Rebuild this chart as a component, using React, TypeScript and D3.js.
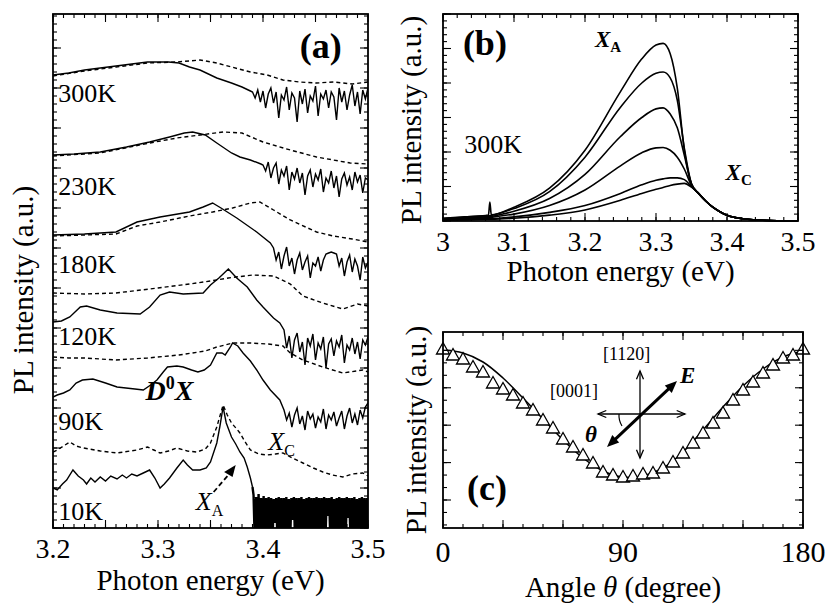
import * as d3 from 'd3'

// ---- panel (a): PL spectra vs temperature, [energy eV, intensity a.u.] ----
const A_300K_SOLID: [number, number][] = [[3.2, 453], [3.215, 455], [3.23, 458], [3.26, 462], [3.29, 466], [3.31, 466], [3.32, 465], [3.33, 461], [3.34, 458], [3.356, 450], [3.37, 445], [3.38, 441], [3.388, 437]]
const A_300K_NOISE = { start: 3.39, step: 0.0025, values: [436, 430, 438, 426, 437, 420, 434, 440, 425, 436, 410, 433, 428, 441, 418, 435, 430, 406, 437, 424, 439, 415, 432, 427, 442, 412, 434, 429, 438, 420, 436, 431, 408, 440, 426, 437, 418, 433, 443, 422, 436, 414, 438, 429, 440] }
const A_300K_DASH: [number, number][] = [[3.2, 452], [3.23, 457], [3.26, 461], [3.29, 465], [3.318, 466], [3.34, 468], [3.356, 465], [3.37, 461], [3.388, 456], [3.404, 453], [3.419, 448], [3.435, 446], [3.451, 445], [3.467, 446], [3.485, 444], [3.5, 446]]

const A_230K_SOLID: [number, number][] = [[3.2, 373], [3.22, 374], [3.245, 376], [3.27, 381], [3.292, 386], [3.311, 391], [3.325, 395], [3.333, 396], [3.345, 393], [3.356, 385], [3.37, 375], [3.378, 371], [3.388, 368], [3.398, 364]]
const A_230K_NOISE = { start: 3.4, step: 0.0025, values: [363, 357, 366, 350, 360, 365, 344, 358, 352, 362, 338, 356, 349, 360, 345, 355, 333, 352, 358, 341, 354, 348, 359, 336, 350, 345, 357, 340, 352, 331, 349, 355, 343, 351, 338, 356, 346, 353, 335, 350, 348] }
const A_230K_DASH: [number, number][] = [[3.2, 372], [3.245, 375], [3.292, 385], [3.318, 390], [3.34, 393], [3.362, 396], [3.38, 395], [3.4, 386], [3.426, 378], [3.451, 371], [3.467, 368], [3.483, 365], [3.5, 364]]

const A_180K_SOLID: [number, number][] = [[3.2, 293], [3.23, 294], [3.26, 296], [3.28, 306], [3.302, 311], [3.33, 316], [3.343, 321], [3.352, 325], [3.36, 320], [3.375, 310], [3.394, 296], [3.407, 285]]
const A_180K_NOISE = { start: 3.41, step: 0.0025, values: [280, 268, 276, 259, 272, 281, 262, 270, 254, 268, 275, 258, 266, 272, 250, 265, 262, 271, 257, 268, 274, 275, 276, 275, 274, 262, 270, 252, 266, 273, 256, 269, 262, 248, 271, 260, 266] }
const A_180K_DASH: [number, number][] = [[3.2, 292], [3.23, 293], [3.26, 294], [3.28, 302], [3.302, 306], [3.33, 312], [3.352, 316], [3.371, 320], [3.388, 325], [3.397, 326], [3.41, 318], [3.426, 308], [3.451, 296], [3.467, 292], [3.485, 289], [3.5, 286]]

const A_120K_SOLID: [number, number][] = [[3.2, 206], [3.208, 207], [3.216, 211], [3.226, 221], [3.232, 222], [3.245, 218], [3.261, 215], [3.283, 214], [3.292, 221], [3.302, 233], [3.311, 236], [3.324, 234], [3.343, 235], [3.35, 243], [3.358, 250], [3.367, 259], [3.375, 250], [3.385, 241], [3.394, 228], [3.4, 221], [3.41, 210], [3.416, 205]]
const A_120K_NOISE = { start: 3.42, step: 0.0025, values: [198, 180, 192, 170, 188, 195, 176, 186, 163, 190, 182, 194, 168, 185, 179, 191, 160, 184, 189, 172, 187, 181, 193, 165, 183, 178, 190, 174, 186, 169, 188, 183, 191] }
const A_120K_DASH: [number, number][] = [[3.2, 235], [3.23, 234], [3.26, 235], [3.3, 240], [3.33, 244], [3.35, 247], [3.367, 250], [3.39, 253], [3.41, 252], [3.426, 244], [3.438, 232], [3.457, 225], [3.476, 219], [3.49, 224], [3.5, 222]]

const A_90K_SOLID: [number, number][] = [[3.2, 131], [3.204, 133], [3.21, 135], [3.216, 138], [3.222, 145], [3.228, 148], [3.238, 149], [3.25, 145], [3.261, 141], [3.278, 139], [3.286, 138], [3.293, 143], [3.299, 148], [3.305, 156], [3.309, 161], [3.318, 162], [3.324, 161], [3.332, 158], [3.338, 156], [3.344, 158], [3.35, 163], [3.356, 175], [3.361, 175], [3.364, 173], [3.369, 181], [3.371, 185], [3.376, 182], [3.381, 175], [3.388, 167], [3.394, 158], [3.4, 148], [3.407, 138], [3.416, 128]]
const A_90K_NOISE = { start: 3.42, step: 0.0025, values: [118, 108, 115, 101, 113, 120, 104, 112, 98, 117, 109, 114, 100, 111, 106, 119, 99, 113, 108, 116, 102, 110, 117, 99, 112, 120, 105, 114, 103, 118, 110, 121, 125] }
const A_90K_DASH: [number, number][] = [[3.2, 171], [3.215, 170], [3.23, 170], [3.26, 168], [3.29, 170], [3.32, 173], [3.345, 177], [3.356, 181], [3.364, 183], [3.371, 185], [3.388, 185], [3.405, 184], [3.419, 182], [3.426, 175], [3.438, 168], [3.457, 161], [3.476, 155], [3.495, 158], [3.5, 156]]

const A_10K_SOLID: [number, number][] = [[3.2, 40], [3.204, 38], [3.209, 44], [3.213, 48], [3.219, 58], [3.224, 52], [3.229, 48], [3.232, 44], [3.236, 50], [3.24, 46], [3.245, 51], [3.25, 47], [3.255, 52], [3.261, 49], [3.266, 53], [3.27, 50], [3.275, 54], [3.28, 52], [3.286, 55], [3.292, 58], [3.297, 50], [3.302, 40], [3.306, 44], [3.311, 50], [3.318, 60], [3.324, 68], [3.328, 63], [3.333, 58], [3.34, 58], [3.346, 60], [3.35, 66], [3.356, 85], [3.359, 102], [3.362, 121], [3.365, 105], [3.37, 91], [3.374, 84], [3.378, 76], [3.382, 70], [3.385, 61], [3.388, 50], [3.39, 41]]
// very noisy, near-zero signal above 3.39 eV (drawn as a dense comb)
const A_10K_COMB = { start: 3.391, step: 0.0012, values: [33, -15, 31, -12, 34, -15, 30, -14, 32, -15, 30, -10, 31, -15, 30, -15, 29, 5, 30, -15, 31, -15, 30, -13, 30, -15, 31, -15, 29, -15, 30, 8, 31, -15, 30, -15, 30, -14, 31, -15, 29, -15, 30, -12, 31, -15, 30, -15, 30, -15, 31, -15, 30, -15, 30, -15, 31, -15, 30, 12, 30, -15, 31, -15, 29, -15, 30, -15, 31, -15, 30, -14, 30, -15, 31, 10, 30, -15, 30, -15, 31, -15, 29, -15, 30, -15, 31, -15, 30, -15, 30, -13, 31, -15, 30, -15, 29, 9, 30, -15] }
const A_10K_DASH: [number, number][] = [[3.2, 76], [3.204, 78], [3.216, 86], [3.222, 82], [3.229, 80], [3.245, 77], [3.261, 75], [3.28, 78], [3.29, 81], [3.296, 78], [3.302, 75], [3.31, 77], [3.318, 80], [3.328, 77], [3.337, 76], [3.345, 79], [3.35, 85], [3.356, 101], [3.359, 112], [3.362, 123], [3.366, 113], [3.37, 105], [3.375, 99], [3.378, 95], [3.383, 86], [3.388, 78], [3.396, 74], [3.404, 73], [3.412, 74], [3.419, 75], [3.428, 70], [3.438, 65], [3.448, 60], [3.457, 56], [3.466, 53], [3.476, 51], [3.485, 54], [3.495, 55], [3.5, 52]]

const A_TEMPS = ['300K', '230K', '180K', '120K', '90K', '10K']
const A_TEMP_LABEL_Y = [426, 333, 255, 183, 98, 8]

// ---- panel (b): 300K spectra, common energy grid ----
const B_ENERGY = [3.0, 3.03, 3.06, 3.064, 3.066, 3.068, 3.1, 3.15, 3.2, 3.25, 3.28, 3.3, 3.31, 3.32, 3.33, 3.34, 3.35, 3.36, 3.37, 3.38, 3.39, 3.4, 3.42, 3.45, 3.5]
const B_CURVES: number[][] = [
  [0.08, 0.12, 0.16, 0.17, 0.55, 0.18, 0.4, 0.95, 2.05, 3.75, 4.7, 5.1, 5.15, 4.85, 3.85, 2.05, 1.08, 0.8, 0.58, 0.4, 0.27, 0.17, 0.07, 0.02, 0.0],
  [0.07, 0.11, 0.15, 0.15, 0.15, 0.16, 0.36, 0.85, 1.85, 3.3, 4.0, 4.28, 4.32, 4.15, 3.5, 2.1, 1.08, 0.8, 0.58, 0.4, 0.27, 0.17, 0.07, 0.02, 0.0],
  [0.06, 0.09, 0.12, 0.12, 0.12, 0.13, 0.28, 0.65, 1.35, 2.45, 3.0, 3.25, 3.28, 3.1, 2.7, 1.9, 1.06, 0.8, 0.58, 0.4, 0.27, 0.17, 0.07, 0.02, 0.0],
  [0.05, 0.07, 0.09, 0.09, 0.09, 0.1, 0.2, 0.45, 0.9, 1.6, 1.98, 2.12, 2.13, 2.05, 1.85, 1.5, 1.03, 0.8, 0.58, 0.4, 0.27, 0.17, 0.07, 0.02, 0.0],
  [0.03, 0.05, 0.07, 0.07, 0.07, 0.07, 0.12, 0.25, 0.45, 0.8, 1.05, 1.18, 1.22, 1.25, 1.25, 1.2, 1.0, 0.8, 0.58, 0.4, 0.27, 0.17, 0.07, 0.02, 0.0],
  [0.02, 0.03, 0.05, 0.05, 0.05, 0.05, 0.08, 0.17, 0.32, 0.6, 0.8, 0.92, 0.97, 1.03, 1.07, 1.09, 0.98, 0.8, 0.58, 0.4, 0.27, 0.17, 0.07, 0.02, 0.0],
]

// ---- panel (c): angle dependence ----
const C_ANGLE = [0, 5, 10, 15, 20, 25, 30, 35, 40, 45, 50, 55, 60, 65, 70, 75, 80, 85, 90, 95, 100, 105, 110, 115, 120, 125, 130, 135, 140, 145, 150, 155, 160, 165, 170, 175, 180]
const C_MEASURED = [179, 173, 169, 161, 156, 145, 139, 133, 125, 118, 108, 100, 89, 81, 73, 65, 56, 53, 51, 52, 54, 55, 60, 66, 75, 85, 95, 105, 115, 128, 138, 146, 155, 163, 170, 173, 179]
const C_FIT_ANGLE = [0, 10, 20, 30, 40, 50, 60, 70, 80, 90, 100, 110, 120, 130, 140, 150, 160, 170, 180]
const C_FIT = [178, 175, 166, 150, 130, 109, 88, 70, 57, 51, 52, 60, 76, 98, 121, 142, 159, 171, 177]

const FONT = 'Liberation Serif, Tinos, Times New Roman, DejaVu Serif, serif'

type Scale = d3.ScaleLinear<number, number>

function withNoise(pts: [number, number][], n?: { start: number; step: number; values: number[] }) {
  if (!n) return pts
  return pts.concat(n.values.map((v, i) => [n.start + i * n.step, v] as [number, number]))
}

function Frame({ x, y, xMajor, xMinor, yMajor, yMinor }: { x: Scale; y: Scale; xMajor: number[]; xMinor: number[]; yMajor: number[]; yMinor: number[] }) {
  const [x0, x1] = x.range()
  const [y0, y1] = y.range() // y0 bottom, y1 top
  const ML = 8
  const mL = 4
  const lines: JSX.Element[] = []
  const addX = (v: number, len: number, k: string) => {
    const px = x(v)
    lines.push(<line key={'xb' + k} x1={px} x2={px} y1={y0} y2={y0 - len} />)
    lines.push(<line key={'xt' + k} x1={px} x2={px} y1={y1} y2={y1 + len} />)
  }
  const addY = (v: number, len: number, k: string) => {
    const py = y(v)
    lines.push(<line key={'yl' + k} x1={x0} x2={x0 + len} y1={py} y2={py} />)
    lines.push(<line key={'yr' + k} x1={x1} x2={x1 - len} y1={py} y2={py} />)
  }
  xMinor.forEach((v, i) => addX(v, mL, 'm' + i))
  xMajor.forEach((v, i) => addX(v, ML, 'M' + i))
  yMinor.forEach((v, i) => addY(v, mL, 'm' + i))
  yMajor.forEach((v, i) => addY(v, ML, 'M' + i))
  return (
    <g stroke="#000" fill="none">
      <g strokeWidth={1.1}>{lines}</g>
      <rect x={x0} y={y1} width={x1 - x0} height={y0 - y1} strokeWidth={1.8} />
    </g>
  )
}

function Arrow({ x1, y1, x2, y2, w, head, filled }: { x1: number; y1: number; x2: number; y2: number; w: number; head: number; filled: boolean }) {
  const a = Math.atan2(y2 - y1, x2 - x1)
  const tip = (px: number, py: number, ang: number) => {
    const p1 = [px - head * Math.cos(ang - 0.4), py - head * Math.sin(ang - 0.4)]
    const p2 = [px - head * Math.cos(ang + 0.4), py - head * Math.sin(ang + 0.4)]
    return filled
      ? <path d={`M${px},${py}L${p1[0]},${p1[1]}L${p2[0]},${p2[1]}Z`} fill="#000" stroke="none" />
      : <path d={`M${p1[0]},${p1[1]}L${px},${py}L${p2[0]},${p2[1]}`} fill="none" stroke="#000" strokeWidth={1.3} />
  }
  const inset = filled ? head * 0.8 : 0
  return (
    <g>
      <line x1={x1 + inset * Math.cos(a)} y1={y1 + inset * Math.sin(a)} x2={x2 - inset * Math.cos(a)} y2={y2 - inset * Math.sin(a)} stroke="#000" strokeWidth={w} />
      {tip(x2, y2, a)}
      {tip(x1, y1, a + Math.PI)}
    </g>
  )
}

export default function App() {
  // scales
  const xA = d3.scaleLinear().domain([3.2, 3.5]).range([53, 368])
  const yA = d3.scaleLinear().domain([0, 514]).range([528, 14])
  const xB = d3.scaleLinear().domain([3.0, 3.5]).range([443, 798])
  const yB = d3.scaleLinear().domain([0, 6]).range([221, 14])
  const xC = d3.scaleLinear().domain([0, 180]).range([443, 803])
  const yC = d3.scaleLinear().domain([0, 196]).range([528, 332])

  const lineA = d3.line<[number, number]>().x(d => xA(d[0])).y(d => yA(d[1]))
  const lineB = d3.line<[number, number]>().x(d => xB(d[0])).y(d => yB(d[1])).curve(d3.curveMonotoneX)
  const lineC = d3.line<[number, number]>().x(d => xC(d[0])).y(d => yC(d[1])).curve(d3.curveCatmullRom)

  const solidA = [
    withNoise(A_300K_SOLID, A_300K_NOISE),
    withNoise(A_230K_SOLID, A_230K_NOISE),
    withNoise(A_180K_SOLID, A_180K_NOISE),
    withNoise(A_120K_SOLID, A_120K_NOISE),
    withNoise(A_90K_SOLID, A_90K_NOISE),
    A_10K_SOLID,
  ]
  const comb = withNoise([A_10K_SOLID[A_10K_SOLID.length - 1]], A_10K_COMB)
  const dashA = [A_300K_DASH, A_230K_DASH, A_180K_DASH, A_120K_DASH, A_90K_DASH, A_10K_DASH]

  const cMinor = d3.range(0, 15).map(i => 3.06 + i * 12.47)
  const cMajor = cMinor.filter((_, i) => i % 3 === 2)

  const tickStyle = { fontSize: 28 }
  const labelStyle = { fontSize: 29 }

  return (
    <svg width={827} height={605} fontFamily={FONT} style={{ position: 'absolute', left: 0, top: 0, background: '#fff' }}>
      <defs>
        <clipPath id="clipA">
          <rect x={53} y={14} width={315} height={514} />
        </clipPath>
      </defs>

      {/* ---------- panel (a) ---------- */}
      <g clipPath="url(#clipA)" fill="none" stroke="#000">
        {dashA.map((d, i) => (
          <path key={'d' + i} d={lineA(d) ?? ''} strokeWidth={1.4} strokeDasharray="4,3" />
        ))}
        {solidA.map((d, i) => (
          <path key={'s' + i} d={lineA(d) ?? ''} strokeWidth={1.4} />
        ))}
        <path d={lineA(comb) ?? ''} strokeWidth={2.4} />
      </g>
      <Frame
        x={xA}
        y={yA}
        xMajor={d3.range(3.2, 3.5001, 0.05)}
        xMinor={d3.range(3.2, 3.5001, 0.01)}
        yMajor={d3.range(0, 515, 40)}
        yMinor={d3.range(0, 515, 8)}
      />
      {A_TEMPS.map((t, i) => (
        <text key={t} x={xA(3.205)} y={yA(A_TEMP_LABEL_Y[i])} fontSize={26}>{t}</text>
      ))}
      <text x={xA(3.435)} y={yA(470)} fontSize={36} fontWeight="bold">(a)</text>
      <text x={xA(3.288)} y={yA(128)} fontSize={28} fontWeight="bold" fontStyle="italic">
        D<tspan dy={-11} fontSize={18} fontStyle="normal">0</tspan><tspan dy={11}>X</tspan>
      </text>
      <text x={xA(3.405)} y={yA(78)} fontSize={26} fontStyle="italic">
        X<tspan dy={6} fontSize={16} fontStyle="normal">C</tspan>
      </text>
      <text x={xA(3.336)} y={yA(18)} fontSize={26} fontStyle="italic">
        X<tspan dy={6} fontSize={16} fontStyle="normal">A</tspan>
      </text>
      <line x1={xA(3.353)} y1={yA(36)} x2={xA(3.367)} y2={yA(53)} stroke="#000" strokeWidth={1.8} strokeDasharray="5,3" />
      <path d={`M${xA(3.374)},${yA(63)}L${xA(3.363)},${yA(56)}L${xA(3.371)},${yA(51)}Z`} fill="#000" />
      {[3.2, 3.3, 3.4, 3.5].map(v => (
        <text key={v} x={xA(v)} y={558} textAnchor="middle" style={tickStyle}>{v.toFixed(1)}</text>
      ))}
      <text x={xA(3.35)} y={590} textAnchor="middle" style={labelStyle}>Photon energy (eV)</text>
      <text transform="translate(33,290) rotate(-90)" textAnchor="middle" style={labelStyle}>PL intensity (a.u.)</text>

      {/* ---------- panel (b) ---------- */}
      <g fill="none" stroke="#000" strokeWidth={1.6}>
        {B_CURVES.map((c, i) => (
          <path key={i} d={lineB(c.map((v, j) => [B_ENERGY[j], v] as [number, number])) ?? ''} />
        ))}
      </g>
      <Frame
        x={xB}
        y={yB}
        xMajor={d3.range(3.0, 3.5001, 0.1)}
        xMinor={d3.range(3.0, 3.5001, 0.02)}
        yMajor={d3.range(0, 6.01, 1)}
        yMinor={d3.range(0, 6.01, 0.2)}
      />
      <text x={xB(3.028)} y={yB(4.8)} fontSize={36} fontWeight="bold">(b)</text>
      <text x={xB(3.214)} y={yB(5.05)} fontSize={23} fontWeight="bold" fontStyle="italic">
        X<tspan dy={5} fontSize={15} fontStyle="normal">A</tspan>
      </text>
      <text x={xB(3.398)} y={yB(1.2)} fontSize={23} fontWeight="bold" fontStyle="italic">
        X<tspan dy={5} fontSize={15} fontStyle="normal">C</tspan>
      </text>
      <text x={xB(3.03)} y={yB(1.97)} fontSize={26}>300K</text>
      {[3, 3.1, 3.2, 3.3, 3.4, 3.5].map(v => (
        <text key={v} x={xB(v)} y={251} textAnchor="middle" style={tickStyle}>{v === 3 ? '3' : v.toFixed(1)}</text>
      ))}
      <text x={xB(3.25)} y={281} textAnchor="middle" style={labelStyle}>Photon energy (eV)</text>
      <text transform="translate(421,120) rotate(-90)" textAnchor="middle" style={labelStyle}>PL intensity (a.u.)</text>

      {/* ---------- panel (c) ---------- */}
      <path d={lineC(C_FIT_ANGLE.map((a, i) => [a, C_FIT[i]] as [number, number])) ?? ''} fill="none" stroke="#000" strokeWidth={1.5} />
      <g fill="#fff" stroke="#000" strokeWidth={1.3}>
        {C_ANGLE.map((a, i) => {
          const cx = xC(a)
          const cy = yC(C_MEASURED[i])
          return <path key={a} d={`M${cx},${cy - 6.5}L${cx + 6.5},${cy + 5}L${cx - 6.5},${cy + 5}Z`} />
        })}
      </g>
      <Frame
        x={xC}
        y={yC}
        xMajor={d3.range(0, 181, 30)}
        xMinor={d3.range(0, 181, 10)}
        yMajor={cMajor}
        yMinor={cMinor}
      />
      {/* inset: crystal axes and polarization */}
      <Arrow x1={xC(98.5)} y1={yC(70)} x2={xC(98.5)} y2={yC(157)} w={1.3} head={9} filled={false} />
      <Arrow x1={xC(77.5)} y1={yC(114)} x2={xC(121)} y2={yC(114)} w={1.3} head={9} filled={false} />
      <Arrow x1={xC(82)} y1={yC(81)} x2={xC(117)} y2={yC(147)} w={3} head={13} filled={true} />
      <path d={`M${xC(88)},${yC(114)} A 20 20 0 0 0 ${xC(89.5)},${yC(102)}`} fill="none" stroke="#000" strokeWidth={1.2} />
      <text x={xC(118.5)} y={yC(145)} fontSize={23} fontWeight="bold" fontStyle="italic">E</text>
      <text x={xC(71)} y={yC(86)} fontSize={23} fontWeight="bold" fontStyle="italic">θ</text>
      <text x={xC(80)} y={yC(168)} fontSize={18}>[1120]</text>
      <text x={xC(53.5)} y={yC(131)} fontSize={18}>[0001]</text>
      <text x={xC(12)} y={yC(28)} fontSize={36} fontWeight="bold">(c)</text>
      {[0, 90, 180].map(v => (
        <text key={v} x={xC(v)} y={562} textAnchor="middle" fontSize={30}>{v}</text>
      ))}
      <text x={xC(90)} y={597} textAnchor="middle" style={labelStyle}>
        Angle <tspan fontStyle="italic">θ</tspan> (degree)
      </text>
      <text transform="translate(426,430) rotate(-90)" textAnchor="middle" style={labelStyle}>PL intensity (a.u.)</text>
    </svg>
  )
}
